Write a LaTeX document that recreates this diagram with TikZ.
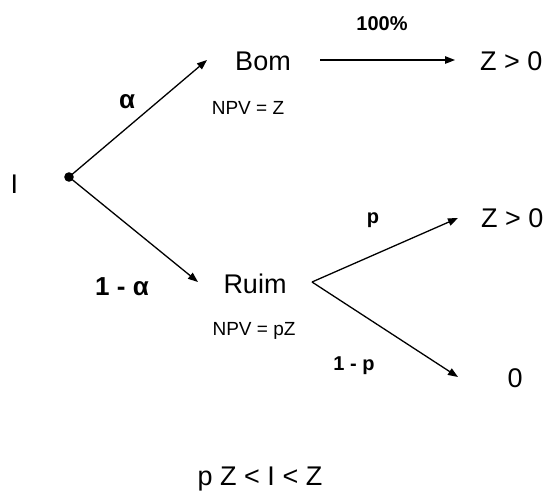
\documentclass[tikz,border=0pt]{standalone}
\usepackage{fontspec}
\setmainfont{Liberation Sans}
\usetikzlibrary{arrows.meta}
\begin{document}
\begin{tikzpicture}[x=1pt,y=-1pt,
  big/.style={inner sep=0pt,font=\fontsize{27}{32}\selectfont},
  small/.style={inner sep=0pt,font=\fontsize{19}{23}\selectfont},
  lbl/.style={inner sep=0pt,font=\fontsize{20}{24}\selectfont\bfseries},
  lblbig/.style={inner sep=0pt,font=\fontsize{26}{30}\selectfont\bfseries},
  conn/.style={line width=1.3pt,-{Triangle[length=10pt,width=7.5pt]}}]
\useasboundingbox (0,0) rectangle (548,491);
% text nodes
\node[big,anchor=base west] (I) at (10.5,193) {I};
\node[big,anchor=base] (bom) at (263,70) {Bom};
\node[big,anchor=base west] (zt) at (480,70) {Z > 0};
\node[small,anchor=base] (npvz) at (248,114) {NPV = Z};
\node[big,anchor=base] (ruim) at (255,293) {Ruim};
\node[small,anchor=base] (npvpz) at (254,335) {NPV = pZ};
\node[big,anchor=base west] (zm) at (481,227) {Z > 0};
\node[big,anchor=base] (zero) at (515,387.5) {0};
\node[big,anchor=base] (ineq) at (260,485) {p Z < I < Z};
\node[lbl,anchor=base] (cent) at (382,30) {100\%};
\node[lblbig] (alpha) at (127,102) {α};
\node[lblbig,anchor=base] (oma) at (122,295) {1 - α};
\node[lbl,anchor=base] (p) at (373,223) {p};
\node[lbl,anchor=base] (omp) at (354,370) {1 - p};
% connector points
\coordinate (root) at (69,177);
\coordinate (bomin) at (207,60);
\coordinate (ruimin) at (198,282);
\coordinate (bomout) at (320,60);
\coordinate (ztin) at (455,60);
\coordinate (ruimout) at (312,282);
\coordinate (zmin) at (458,218);
\coordinate (zeroin) at (458,377);
% connectors
\draw[conn] (root) -- (bomin);
\draw[conn] (root) -- (ruimin);
\draw[conn] (bomout) -- (ztin);
\draw[conn] (ruimout) -- (zmin);
\draw[conn] (ruimout) -- (zeroin);
\fill (root) circle (4.8pt);
\end{tikzpicture}
\end{document}
